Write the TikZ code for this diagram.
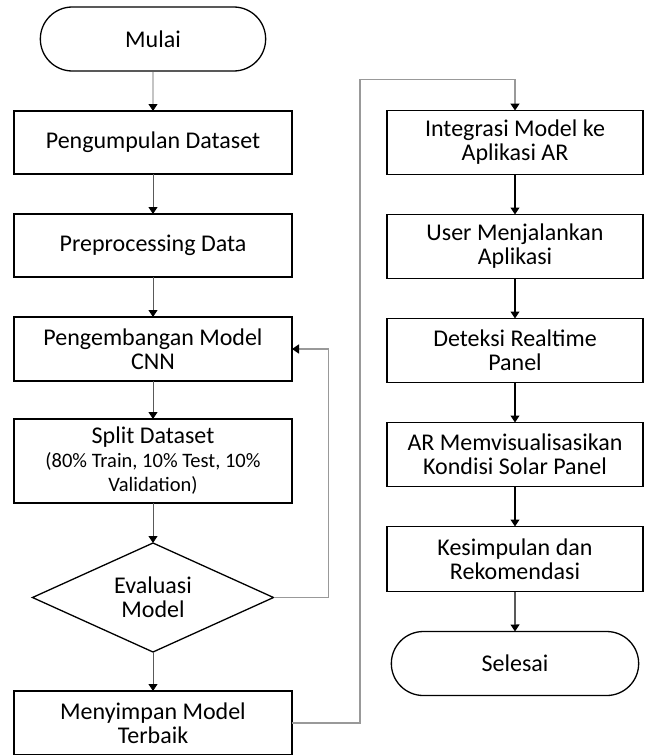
\documentclass[tikz,border=0pt]{standalone}
\usepackage{fontspec}
\setmainfont{Carlito}
\usetikzlibrary{positioning,shapes.geometric,shapes.misc,arrows.meta}

\newcommand{\teksbesar}{\fontsize{24}{24}\selectfont}
\newcommand{\tekskecil}{\fontsize{20.5}{22}\selectfont}

\tikzset{
	proses/.style = {draw, line width=1.3pt, rectangle, minimum width=278pt, minimum height=63pt, inner sep=2pt, outer sep=0pt, align=center, font=\teksbesar},
	proseskanan/.style = {proses, minimum width=256pt, minimum height=64pt},
	terminal/.style = {draw, line width=1.3pt, rounded rectangle, minimum width=232pt, minimum height=64pt, outer sep=0pt, font=\teksbesar},
	keputusan/.style = {draw, line width=1.3pt, diamond, minimum width=241pt, minimum height=109pt, aspect=2.2, inner sep=0pt, outer sep=0pt, align=center, font=\teksbesar},
	panah/.style = {draw=black!65, line width=0.8pt, -{Triangle[width=9pt,length=7pt,color=black]}},
	panahhitam/.style = {panah, draw=black, line width=1.1pt},
	panahbalik/.style = {panah, draw=black!40, line width=1.6pt}
}

\begin{document}
\begin{tikzpicture}[node distance=40pt]
		\useasboundingbox (0,0) rectangle (646pt,-755pt);
		\clip (0,0) rectangle (646pt,-755pt);
		\node[terminal] (mulai) at (153pt,-39pt) {Mulai};
		\node[proses, below= of mulai] (kumpul) {Pengumpulan Dataset};
		\node[proses, below= of kumpul] (prepro) {Preprocessing Data};
		\node[proses, minimum height=64pt, below= of prepro] (cnn) {Pengembangan Model\\CNN};
		\node[proses, minimum height=84pt, inner sep=0pt, below=38pt of cnn] (split) {Split Dataset\\\tekskecil(80\% Train, 10\% Test, 10\%\\\tekskecil Validation)};
		\node[keputusan, below= of split] (evaluasi) {Evaluasi\\Model};
		\node[proses, minimum height=64pt, below=39pt of evaluasi] (simpan) {Menyimpan Model\\Terbaik};
		\node[proseskanan, right=95pt of kumpul] (integrasi) {Integrasi Model ke\\Aplikasi AR};
		\node[proseskanan, below= of integrasi] (jalan) {User Menjalankan\\Aplikasi};
		\node[proseskanan, below= of jalan] (deteksi) {Deteksi Realtime\\Panel};
		\node[proseskanan, below= of deteksi] (visual) {AR Memvisualisasikan\\Kondisi Solar Panel};
		\node[proseskanan, minimum height=65pt, below= of visual] (simpul) {Kesimpulan dan\\Rekomendasi};
		\node[terminal, minimum width=254pt, below= of simpul] (selesai) {Selesai};
		\coordinate[above=31pt of integrasi] (atas);
		\draw[panah] (mulai) -- (kumpul);
		\draw[panah] (kumpul) -- (prepro);
		\draw[panah] (prepro) -- (cnn);
		\draw[panah] (cnn) -- (split);
		\draw[panah] (split) -- (evaluasi);
		\draw[panah] (evaluasi) -- (simpan);
		\draw[panahbalik] (evaluasi.east) -- ++(55pt,0) |- (cnn.east);
		\draw[panahbalik] (simpan.east) -- ++(68pt,0) |- (atas) -- (integrasi);
		\draw[panahhitam] (integrasi) -- (jalan);
		\draw[panahhitam] (jalan) -- (deteksi);
		\draw[panahhitam] (deteksi) -- (visual);
		\draw[panahhitam] (visual) -- (simpul);
		\draw[panahhitam] (simpul) -- (selesai);
\end{tikzpicture}
\end{document}
